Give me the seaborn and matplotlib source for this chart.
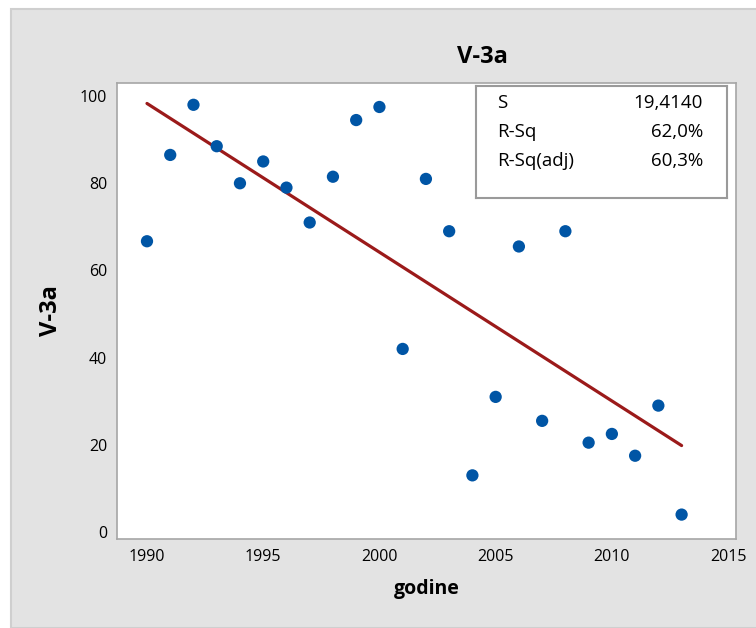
import numpy as np
import pandas as pd
import matplotlib.pyplot as plt
import seaborn as sns
from matplotlib.patches import Rectangle

# data
years = [1990, 1991, 1992, 1993, 1994, 1995, 1996, 1997, 1998, 1999, 2000, 2001,
         2002, 2003, 2004, 2005, 2006, 2007, 2008, 2009, 2010, 2011, 2012, 2013]
v3a = [66.7, 86.5, 98.0, 88.5, 80.0, 85.0, 79.0, 71.0, 81.5, 94.5, 97.5, 42.0,
       81.0, 69.0, 13.0, 31.0, 65.5, 25.5, 69.0, 20.5, 22.5, 17.5, 29.0, 4.0]
x_ticks = [1990, 1995, 2000, 2005, 2010, 2015]
y_ticks = [0, 20, 40, 60, 80, 100]
stat_names = ["S", "R-Sq", "R-Sq(adj)"]
stat_values = ["19,4140", "62,0%", "60,3%"]

df = pd.DataFrame({"godine": years, "V-3a": v3a})

sns.set_theme(style="white")
plt.rcParams['font.family'] = ['Open Sans', 'DejaVu Sans']
plt.rcParams['text.color'] = 'black'
plt.rcParams['axes.labelcolor'] = 'black'

fig = plt.figure(figsize=(7.56, 6.28), dpi=100)
fig.patch.set_facecolor("white")
# gray Minitab-like panel behind everything
fig.patches.append(Rectangle((11 / 756, 0), 1, 1 - 9 / 628, transform=fig.transFigure,
                             facecolor="#e3e3e3", edgecolor="#cfcfcf", lw=1.5, zorder=-10))

ax = fig.add_axes([117 / 756, 1 - 539 / 628, (736 - 117) / 756, (539 - 83) / 628])
ax.set_facecolor("white")

sns.regplot(data=df, x="godine", y="V-3a", ci=None, ax=ax,
            scatter_kws=dict(s=78, color="#0055a5", edgecolor="none", alpha=1, zorder=3),
            line_kws=dict(color="#9b1a1a", lw=2.3, zorder=2),
            truncate=True)

ax.set_xlim(1988.71, 2015.34)
ax.set_ylim(-1.6, 103)
ax.set_xticks(x_ticks)
ax.set_yticks(y_ticks)
ax.tick_params(axis="both", direction="out", length=4, width=1, color="#a0a0a0",
               labelsize=11.5, labelcolor="black", pad=3)
for sp in ax.spines.values():
    sp.set_color("#a6a6a6")
    sp.set_linewidth(1.2)

ax.set_xlabel("godine", fontsize=14, fontweight="bold", labelpad=10)
ax.set_ylabel("V-3a", fontsize=17, fontweight="bold", labelpad=12)
fig.text(482 / 756, 1 - 57 / 628, "V-3a", ha="center", va="center",
         fontsize=17, fontweight="bold")

# stats box
ax_box = fig.add_axes([476 / 756, 1 - 198 / 628, (727 - 476) / 756, (198 - 86) / 628])
ax_box.set_facecolor("white")
ax_box.set_xticks([])
ax_box.set_yticks([])
for sp in ax_box.spines.values():
    sp.set_color("#9a9a9a")
    sp.set_linewidth(1.5)
for i, (name, val) in enumerate(zip(stat_names, stat_values)):
    yy = 0.85 - i * 0.259
    ax_box.text(0.085, yy, name, fontsize=13.5, ha="left", va="center",
                transform=ax_box.transAxes)
    ax_box.text(0.905, yy, val, fontsize=13.5, ha="right", va="center",
                transform=ax_box.transAxes)

fig.savefig("out.png", dpi=100)
